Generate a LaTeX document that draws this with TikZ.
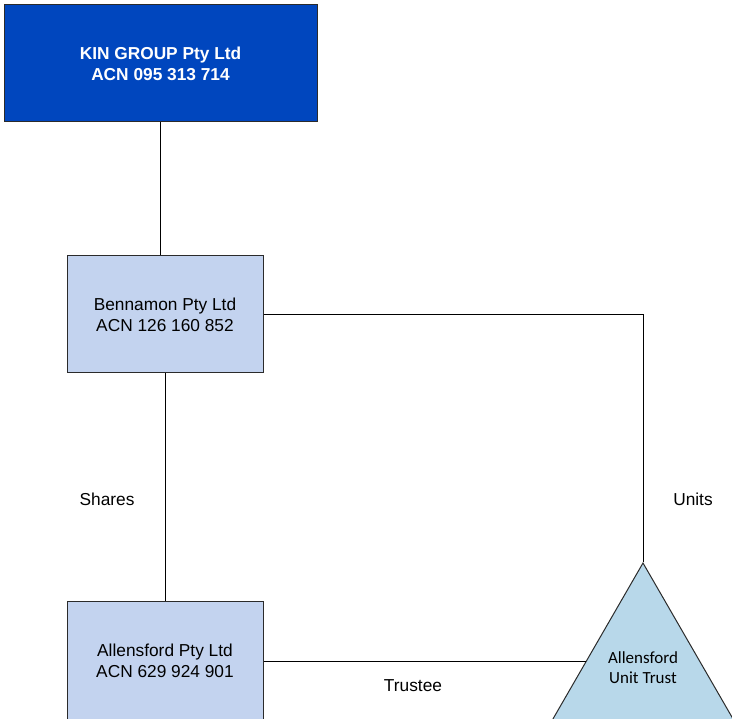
\documentclass[tikz,border=0pt]{standalone}
\usepackage{fontspec}
\setmainfont{Liberation Sans}
\newfontfamily\calfont{Carlito}
\usetikzlibrary{shapes.geometric,calc}
\definecolor{kinblue}{HTML}{0046BE}
\definecolor{boxblue}{HTML}{C3D3EF}
\definecolor{triblue}{HTML}{B8D8EA}
\definecolor{edgegray}{HTML}{2B2B2B}
\tikzset{
  entity/.style={draw=edgegray, line width=1pt, fill=boxblue, minimum width=196pt, minimum height=117pt, inner sep=0pt, align=center, font=\fontsize{17.3}{21}\selectfont},
  topentity/.style={entity, fill=kinblue, minimum width=313pt, text=white, font=\fontsize{17.3}{21}\selectfont\bfseries},
  link/.style={draw=black, line width=1pt},
  lbl/.style={inner sep=0pt, font=\fontsize{17.3}{21}\selectfont}
}
\begin{document}
\begin{tikzpicture}[x=1pt,y=-1pt]
\useasboundingbox (0,0) rectangle (732,719);
\clip (0,0) rectangle (732,719);
\node[topentity] (kin) at (160.5,63.5) {KIN GROUP Pty Ltd\\ACN 095 313 714};
\node[entity] (ben) at (165,314.5) {Bennamon Pty Ltd\\ACN 126 160 852};
\node[entity, minimum height=118pt] (alf) at (165,661) {Allensford Pty Ltd\\ACN 629 924 901};
\node[draw=edgegray, line width=1pt, fill=triblue, regular polygon, regular polygon sides=3, minimum size=240pt, inner sep=0pt] (tri) at (643,683) {};
\node[lbl, align=center, font=\calfont\fontsize{17}{20}\selectfont] (trilbl) at (643,668) {Allensford\\Unit Trust};
\coordinate (trileft) at ($(tri.corner 1)!{(661-563)/(180)}!(tri.corner 2)$);
\draw[link] (kin.south) -- (kin.south |- ben.north);
\draw[link] (ben.south) -- (alf.north);
\draw[link] (ben.east) -| (tri.corner 1);
\draw[link] (alf.east) -- (alf.east -| trileft);
\node[lbl] (shares) at (107,499) {Shares};
\node[lbl] (units) at (693,499) {Units};
\node[lbl] (trustee) at (413,686) {Trustee};
\end{tikzpicture}
\end{document}
